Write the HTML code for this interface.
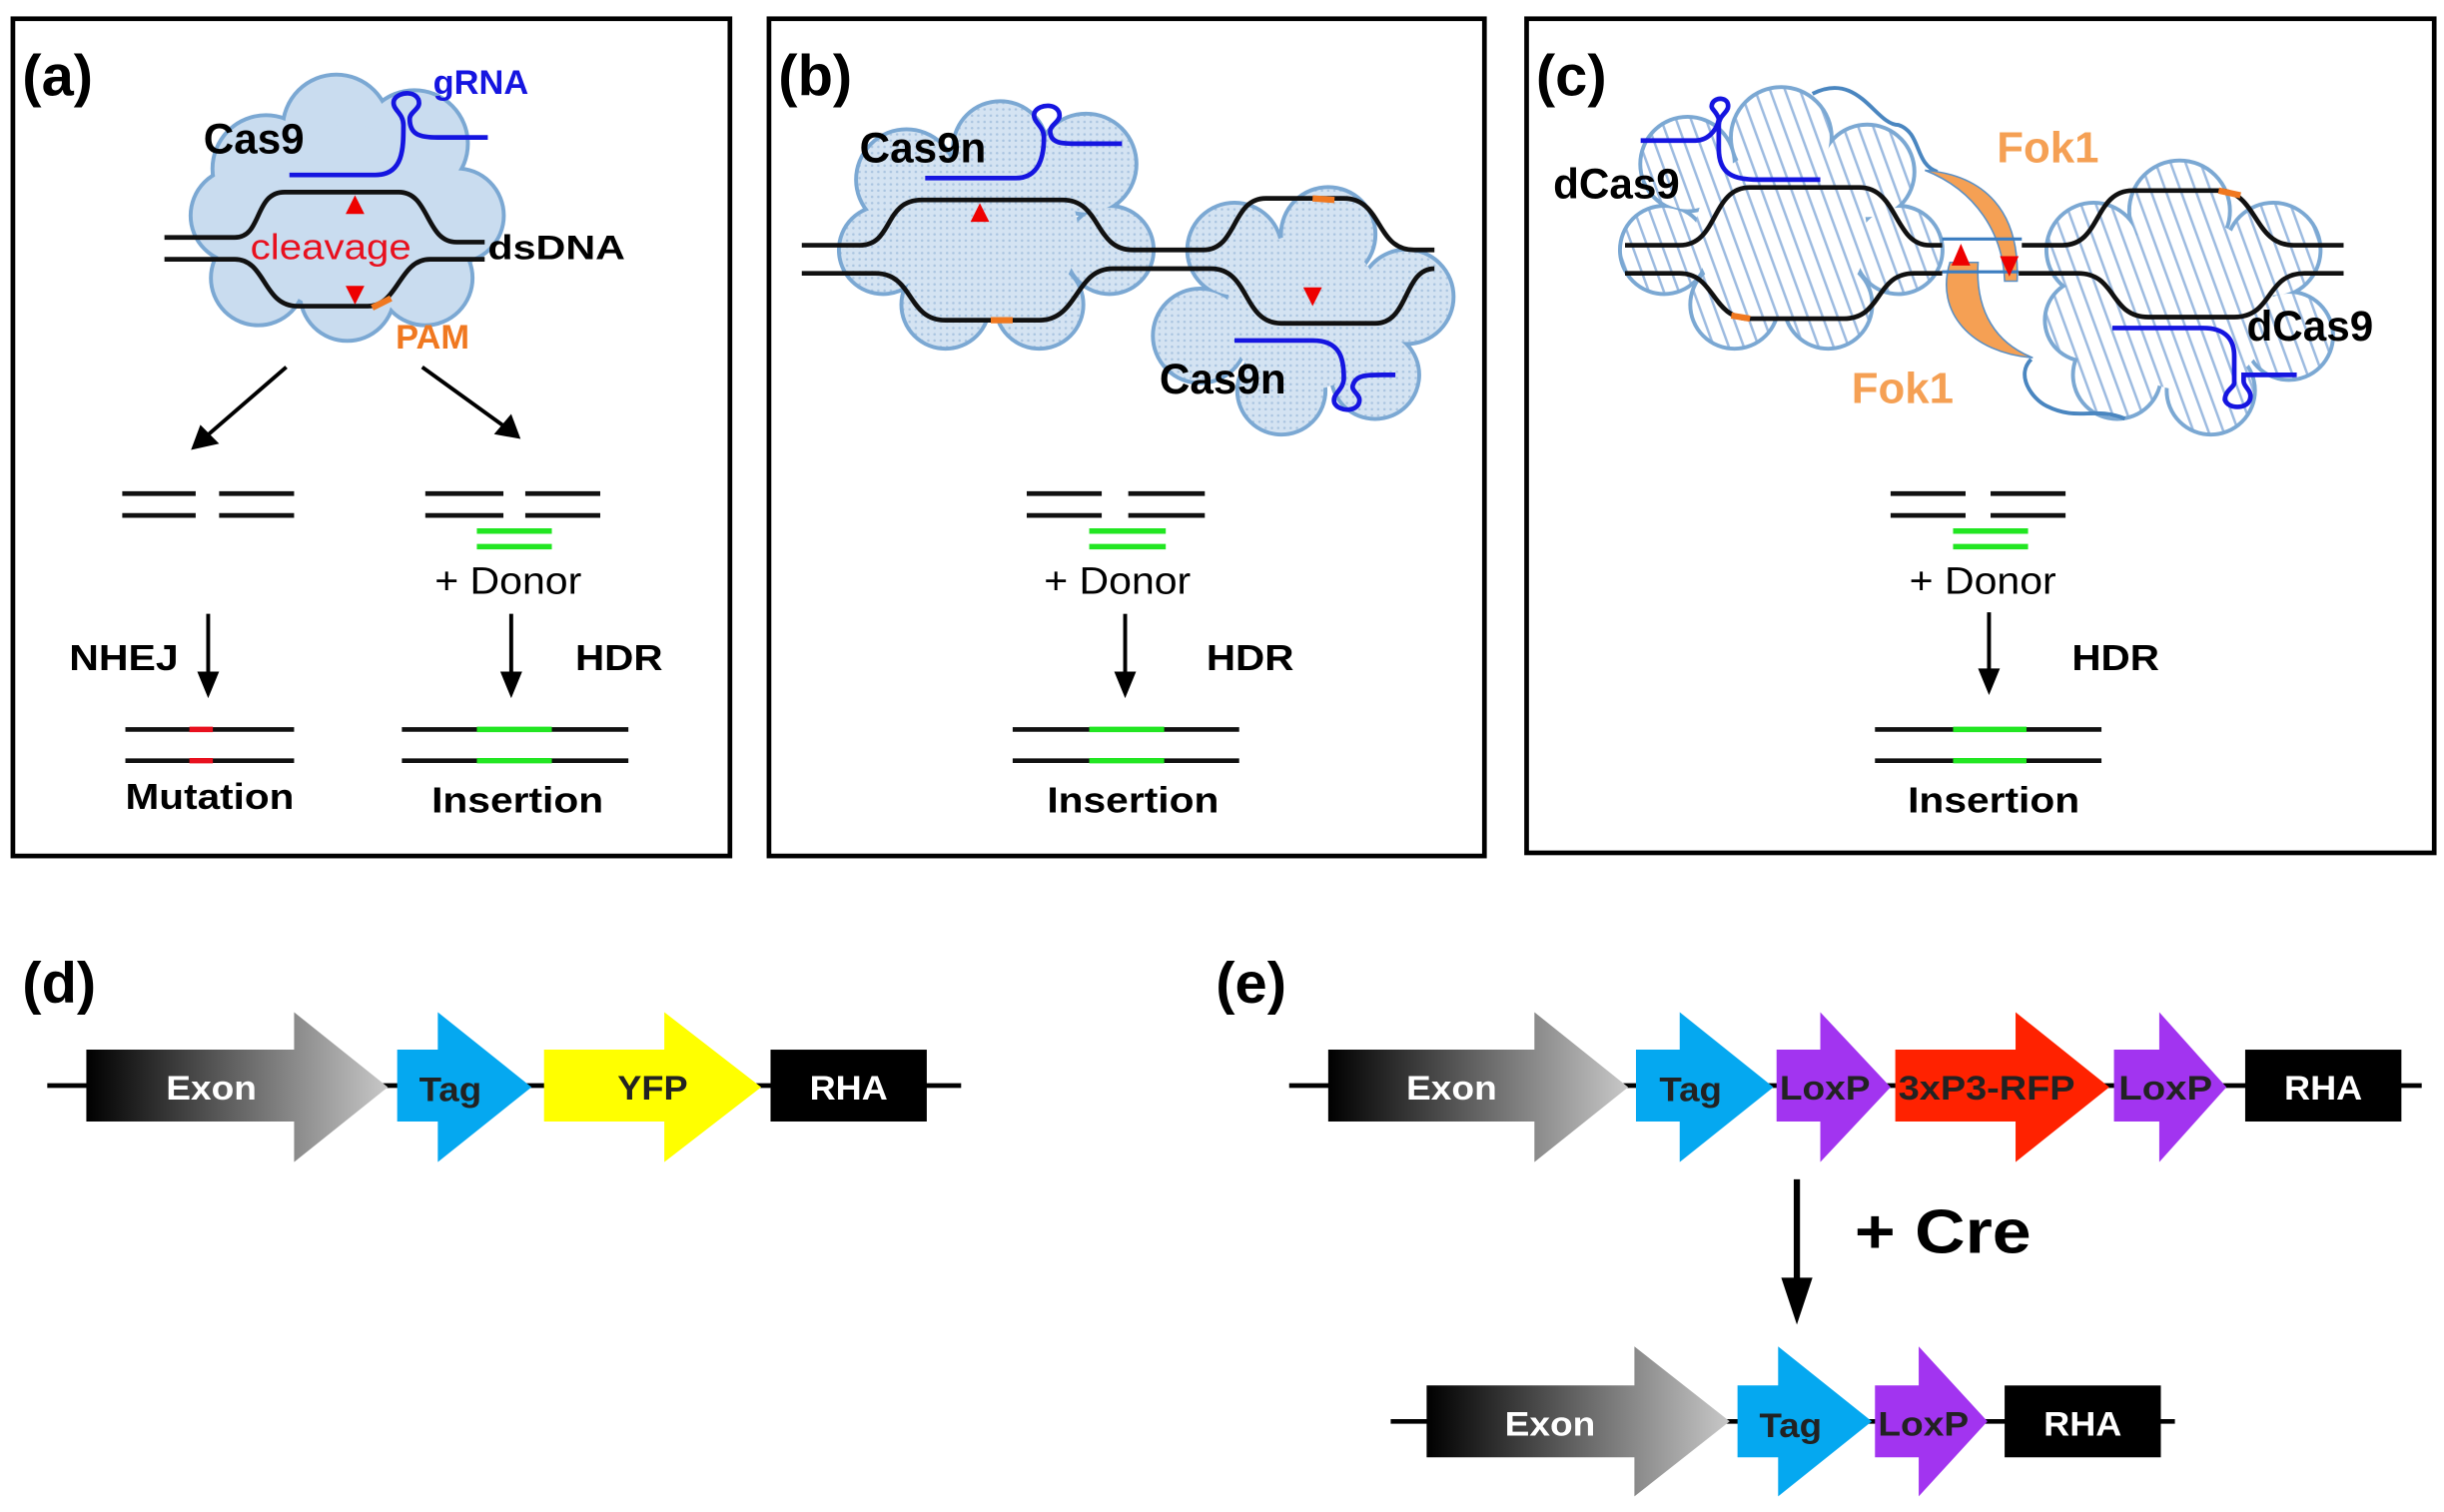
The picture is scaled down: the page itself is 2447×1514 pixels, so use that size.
<!DOCTYPE html>
<html><head><meta charset="utf-8"><style>
html,body{margin:0;padding:0;background:#fff;}
svg{display:block;}
text{font-family:"Liberation Sans",Arial,sans-serif;}
.b{font-weight:bold;}
</style></head><body>
<svg width="2447" height="1514" viewBox="0 0 1564 968" xmlns="http://www.w3.org/2000/svg">
<defs>
<linearGradient id="ex" x1="0" x2="1" y1="0" y2="0"><stop offset="0" stop-color="#000"/><stop offset="1" stop-color="#c8c8c8"/></linearGradient>
<pattern id="dots" width="4" height="4" patternUnits="userSpaceOnUse"><rect width="4" height="4" fill="#d4e3f2"/><circle cx="2" cy="2" r="0.8" fill="#a9c4e0"/></pattern>
<pattern id="stripe" width="9" height="9" patternUnits="userSpaceOnUse" patternTransform="rotate(-20)"><rect width="9" height="9" fill="#fff"/><rect width="1.6" height="9" fill="#9dbbe0"/></pattern>
</defs>
<g fill="none" stroke="#000" stroke-width="3">
<rect x="8" y="12" width="459" height="536"/>
<rect x="492" y="12" width="458" height="536"/>
<rect x="977" y="12" width="581" height="534"/>
</g>
<!-- cloud a -->
<g stroke="#7ba8d3" stroke-width="3" fill="#7ba8d3">
<circle cx="170" cy="108" r="34"/><circle cx="215" cy="82" r="34"/><circle cx="265" cy="92" r="34"/><circle cx="292" cy="138" r="30"/><circle cx="272" cy="178" r="30"/><circle cx="222" cy="188" r="30"/><circle cx="165" cy="178" r="30"/><circle cx="152" cy="138" r="30"/>
</g>
<g fill="#c9dcef">
<circle cx="170" cy="108" r="33"/><circle cx="215" cy="82" r="33"/><circle cx="265" cy="92" r="33"/><circle cx="292" cy="138" r="29"/><circle cx="272" cy="178" r="29"/><circle cx="222" cy="188" r="29"/><circle cx="165" cy="178" r="29"/><circle cx="152" cy="138" r="29"/><circle cx="222" cy="140" r="60"/>
</g>
<!-- clouds b -->
<g stroke="#7ba8d3" stroke-width="3" fill="#7ba8d3">
<circle cx="580" cy="115" r="32"/><circle cx="640" cy="95" r="30"/><circle cx="695" cy="105" r="32"/><circle cx="710" cy="160" r="28"/><circle cx="665" cy="195" r="28"/><circle cx="605" cy="195" r="28"/><circle cx="565" cy="160" r="28"/>
<circle cx="790" cy="160" r="30"/><circle cx="850" cy="150" r="30"/><circle cx="900" cy="190" r="30"/><circle cx="880" cy="240" r="28"/><circle cx="820" cy="250" r="28"/><circle cx="768" cy="215" r="30"/>
</g>
<g fill="url(#dots)">
<circle cx="580" cy="115" r="31"/><circle cx="640" cy="95" r="29"/><circle cx="695" cy="105" r="31"/><circle cx="710" cy="160" r="27"/><circle cx="665" cy="195" r="27"/><circle cx="605" cy="195" r="27"/><circle cx="565" cy="160" r="27"/><circle cx="635" cy="150" r="55"/>
<circle cx="790" cy="160" r="29"/><circle cx="850" cy="150" r="29"/><circle cx="900" cy="190" r="29"/><circle cx="880" cy="240" r="27"/><circle cx="820" cy="250" r="27"/><circle cx="768" cy="215" r="29"/><circle cx="835" cy="200" r="50"/>
</g>
<!-- clouds c -->
<g stroke="#7ba8d3" stroke-width="3" fill="#7ba8d3">
<circle cx="1080" cy="105" r="30"/><circle cx="1140" cy="88" r="32"/><circle cx="1195" cy="110" r="30"/><circle cx="1215" cy="160" r="28"/><circle cx="1170" cy="195" r="28"/><circle cx="1110" cy="195" r="28"/><circle cx="1065" cy="160" r="28"/>
<circle cx="1340" cy="160" r="30"/><circle cx="1395" cy="135" r="32"/><circle cx="1455" cy="160" r="30"/><circle cx="1465" cy="215" r="28"/><circle cx="1415" cy="250" r="28"/><circle cx="1355" cy="240" r="28"/><circle cx="1335" cy="205" r="26"/>
</g>
<g fill="url(#stripe)">
<circle cx="1080" cy="105" r="29"/><circle cx="1140" cy="88" r="31"/><circle cx="1195" cy="110" r="29"/><circle cx="1215" cy="160" r="27"/><circle cx="1170" cy="195" r="27"/><circle cx="1110" cy="195" r="27"/><circle cx="1065" cy="160" r="27"/><circle cx="1140" cy="150" r="55"/>
<circle cx="1340" cy="160" r="29"/><circle cx="1395" cy="135" r="31"/><circle cx="1455" cy="160" r="29"/><circle cx="1465" cy="215" r="27"/><circle cx="1415" cy="250" r="27"/><circle cx="1355" cy="240" r="27"/><circle cx="1335" cy="205" r="25"/><circle cx="1400" cy="195" r="55"/>
</g>
<path d="M1160,60 C1190,45 1200,80 1215,80 C1230,85 1225,105 1240,110 M1300,230 C1290,240 1300,255 1310,260 C1330,270 1340,260 1360,268" fill="none" stroke="#4a86c0" stroke-width="2.5"/>
<!-- Fok1 crescents -->
<path d="M1232,109 C1270,112 1293,135 1291,180 L1283,180 C1282,150 1265,122 1232,109 Z" fill="#f5a054" stroke="#5a8fc4" stroke-width="1"/>
<path d="M1248,168 C1238,200 1262,226 1301,229 C1278,220 1264,200 1266,168 Z" fill="#f5a054" stroke="#5a8fc4" stroke-width="1"/>
<g stroke="#3b7dc0" stroke-width="2"><line x1="1243" y1="153" x2="1294" y2="153"/><line x1="1243" y1="174" x2="1292" y2="174"/></g>
<!-- DNA strands -->
<g fill="none" stroke="#111" stroke-width="3">
<path d="M105,152 L150,152 C168,152 162,123 182,123 L255,123 C275,123 272,155 292,155 L310,155"/>
<path d="M105,166 L150,166 C170,166 168,196 190,196 L235,196 C255,196 255,166 275,166 L310,166"/>
<path d="M513,157 L550,157 C572,157 565,128 590,128 L680,128 C705,128 700,160 725,160 L770,160 C792,160 788,127 810,127 L860,127 C885,127 880,160 905,160 L918,160"/>
<path d="M513,175 L560,175 C585,175 580,205 605,205 L665,205 C690,205 688,172 712,172 L775,172 C800,172 795,207 820,207 L880,207 C902,207 898,172 918,172"/>
<path d="M1040,157 L1075,157 C1100,157 1095,120 1120,120 L1190,120 C1215,120 1212,157 1235,157 L1243,157 M1294,157 L1320,157 C1345,157 1340,122 1365,122 L1420,122 C1445,122 1442,157 1468,157 L1500,157"/>
<path d="M1040,175 L1075,175 C1098,175 1095,204 1120,204 L1180,204 C1205,204 1200,175 1225,175 L1243,175 M1292,175 L1330,175 C1355,175 1350,203 1375,203 L1430,203 C1455,203 1450,175 1475,175 L1500,175"/>
</g>
<g stroke="#f07820" stroke-width="4"><line x1="238" y1="197" x2="250" y2="191"/><line x1="634" y1="205" x2="648" y2="205"/><line x1="840" y1="127" x2="854" y2="128"/><line x1="1108" y1="202" x2="1120" y2="204"/><line x1="1420" y1="122" x2="1434" y2="125"/></g>
<!-- gRNA -->
<g fill="none" stroke="#1515e0" stroke-width="3">
<path d="M185,112 L240,112 C258,112 258,95 258,80 C258,72 250,70 252,64 C255,58 268,58 268,66 C268,70 262,72 262,76 C262,86 268,88 280,88 L312,88"/>
<path d="M592,114 L650,114 C665,114 668,100 668,88 C668,80 660,78 662,72 C665,66 678,66 678,74 C678,78 672,80 672,84 C672,92 680,92 690,92 L718,92"/>
<path d="M790,218 L840,218 C858,218 860,230 860,242 C860,250 852,252 854,258 C857,264 870,264 870,256 C870,252 864,250 866,246 C868,240 875,240 885,240 L893,240"/>
<path d="M1050,90 L1085,90 C1095,90 1100,80 1100,76 C1098,70 1094,70 1096,66 C1098,62 1106,62 1106,68 C1106,72 1100,74 1100,80 L1100,95 C1100,112 1110,115 1125,115 L1165,115"/>
<path d="M1352,210 L1410,210 C1425,210 1430,218 1430,228 L1430,245 C1430,248 1424,250 1424,256 C1426,262 1438,262 1440,256 C1442,250 1436,248 1436,244 L1436,240 L1470,240"/>
</g>
<!-- red triangles -->
<g fill="#e00">
<polygon points="221,137 233,137 227,125"/><polygon points="221,183 233,183 227,195"/>
<polygon points="621,142 633,142 627,130"/><polygon points="834,184 846,184 840,196"/>
<polygon points="1249,170 1261,170 1255,156"/><polygon points="1280,164 1292,164 1286,177"/>
</g>
<!-- labels top -->
<text x="14" y="61" class="b" font-size="37">(a)</text>
<text x="498" y="61" class="b" font-size="37">(b)</text>
<text x="983" y="61" class="b" font-size="37">(c)</text>
<text x="130" y="98" class="b" font-size="27">Cas9</text>
<text x="277" y="60" class="b" font-size="22" fill="#1515e0">gRNA</text>
<text x="160" y="166" font-size="23" fill="#e8101e" textLength="103" lengthAdjust="spacingAndGlyphs">cleavage</text>
<text x="312" y="166" class="b" font-size="22" textLength="88" lengthAdjust="spacingAndGlyphs">dsDNA</text>
<text x="253" y="223" class="b" font-size="22" fill="#f07820">PAM</text>
<text x="550" y="104" class="b" font-size="27">Cas9n</text>
<text x="742" y="252" class="b" font-size="27">Cas9n</text>
<text x="994" y="127" class="b" font-size="27">dCas9</text>
<text x="1438" y="218" class="b" font-size="27">dCas9</text>
<text x="1278" y="104" class="b" font-size="28" fill="#f5a054">Fok1</text>
<text x="1185" y="258" class="b" font-size="28" fill="#f5a054">Fok1</text>
<!-- arrows a -->
<g stroke="#000" stroke-width="2.5" fill="#000">
<line x1="183" y1="235" x2="131" y2="280"/><polygon points="122,288 128,272 140,284" stroke="none"/>
<line x1="270" y1="235" x2="324" y2="274"/><polygon points="333,281 316,278 327,265" stroke="none"/>
</g>
<!-- broken DNA -->
<g stroke="#111" stroke-width="3">
<line x1="78" y1="316" x2="125" y2="316"/><line x1="78" y1="330" x2="125" y2="330"/><line x1="140" y1="316" x2="188" y2="316"/><line x1="140" y1="330" x2="188" y2="330"/>
<line x1="272" y1="316" x2="322" y2="316"/><line x1="272" y1="330" x2="322" y2="330"/><line x1="336" y1="316" x2="384" y2="316"/><line x1="336" y1="330" x2="384" y2="330"/>
<line x1="657" y1="316" x2="705" y2="316"/><line x1="657" y1="330" x2="705" y2="330"/><line x1="722" y1="316" x2="771" y2="316"/><line x1="722" y1="330" x2="771" y2="330"/>
<line x1="1210" y1="316" x2="1258" y2="316"/><line x1="1210" y1="330" x2="1258" y2="330"/><line x1="1274" y1="316" x2="1322" y2="316"/><line x1="1274" y1="330" x2="1322" y2="330"/>
<line x1="80" y1="467" x2="188" y2="467"/><line x1="80" y1="487" x2="188" y2="487"/>
<line x1="257" y1="467" x2="402" y2="467"/><line x1="257" y1="487" x2="402" y2="487"/>
<line x1="648" y1="467" x2="793" y2="467"/><line x1="648" y1="487" x2="793" y2="487"/>
<line x1="1200" y1="467" x2="1345" y2="467"/><line x1="1200" y1="487" x2="1345" y2="487"/>
</g>
<g stroke="#22e622" stroke-width="3.5">
<line x1="305" y1="340" x2="353" y2="340"/><line x1="305" y1="350" x2="353" y2="350"/>
<line x1="697" y1="340" x2="746" y2="340"/><line x1="697" y1="350" x2="746" y2="350"/>
<line x1="1250" y1="340" x2="1298" y2="340"/><line x1="1250" y1="350" x2="1298" y2="350"/>
<line x1="305" y1="467" x2="353" y2="467"/><line x1="305" y1="487" x2="353" y2="487"/>
<line x1="697" y1="467" x2="745" y2="467"/><line x1="697" y1="487" x2="745" y2="487"/>
<line x1="1250" y1="467" x2="1297" y2="467"/><line x1="1250" y1="487" x2="1297" y2="487"/>
</g>
<g stroke="#e8101e" stroke-width="3.5"><line x1="121" y1="467" x2="136" y2="467"/><line x1="121" y1="487" x2="136" y2="487"/></g>
<!-- down arrows -->
<g stroke="#000" stroke-width="2.5">
<line x1="133" y1="393" x2="133" y2="432"/><line x1="327" y1="393" x2="327" y2="432"/><line x1="720" y1="393" x2="720" y2="432"/><line x1="1273" y1="392" x2="1273" y2="430"/>
</g>
<g fill="#000">
<polygon points="126,430 140,430 133,447"/><polygon points="320,430 334,430 327,447"/><polygon points="713,430 727,430 720,447"/><polygon points="1266,428 1280,428 1273,445"/>
</g>
<g font-size="24">
<text x="278" y="380" textLength="94" lengthAdjust="spacingAndGlyphs">+ Donor</text>
<text x="668" y="380" textLength="94" lengthAdjust="spacingAndGlyphs">+ Donor</text>
<text x="1222" y="380" textLength="94" lengthAdjust="spacingAndGlyphs">+ Donor</text>
</g>
<g class="b" font-size="23">
<text x="44" y="429" textLength="70" lengthAdjust="spacingAndGlyphs">NHEJ</text>
<text x="368" y="429" textLength="56" lengthAdjust="spacingAndGlyphs">HDR</text>
<text x="772" y="429" textLength="56" lengthAdjust="spacingAndGlyphs">HDR</text>
<text x="1326" y="429" textLength="56" lengthAdjust="spacingAndGlyphs">HDR</text>
<text x="80" y="518" textLength="108" lengthAdjust="spacingAndGlyphs">Mutation</text>
<text x="276" y="520" textLength="110" lengthAdjust="spacingAndGlyphs">Insertion</text>
<text x="670" y="520" textLength="110" lengthAdjust="spacingAndGlyphs">Insertion</text>
<text x="1221" y="520" textLength="110" lengthAdjust="spacingAndGlyphs">Insertion</text>
</g>
<!-- (d) -->
<text x="14" y="642" class="b" font-size="37">(d)</text>
<text x="778" y="642" class="b" font-size="37">(e)</text>
<g stroke="#000" stroke-width="3">
<line x1="30" y1="695" x2="615" y2="695"/><line x1="825" y1="695" x2="1550" y2="695"/><line x1="890" y1="910" x2="1392" y2="910"/>
</g>
<polygon points="55,672 188,672 188,648 248,696 188,744 188,718 55,718" fill="url(#ex)"/>
<polygon points="254,672 280,672 280,648 340,696 280,744 280,718 254,718" fill="#05a8f0"/>
<polygon points="348,672 425,672 425,648 487,696 425,744 425,718 348,718" fill="#ffff00"/>
<rect x="493" y="672" width="100" height="46" fill="#000"/>
<polygon points="850,672 982,672 982,648 1042,696 982,744 982,718 850,718" fill="url(#ex)"/>
<polygon points="1047,672 1075,672 1075,648 1135,696 1075,744 1075,718 1047,718" fill="#05a8f0"/>
<polygon points="1137,672 1165,672 1165,648 1210,696 1165,744 1165,718 1137,718" fill="#a234f0"/>
<polygon points="1213,672 1290,672 1290,648 1350,696 1290,744 1290,718 1213,718" fill="#ff2200"/>
<polygon points="1353,672 1382,672 1382,648 1425,696 1382,744 1382,718 1353,718" fill="#a234f0"/>
<rect x="1437" y="672" width="100" height="46" fill="#000"/>
<polygon points="913,887 1046,887 1046,862 1107,910 1046,958 1046,933 913,933" fill="url(#ex)"/>
<polygon points="1112,887 1138,887 1138,862 1198,910 1138,958 1138,933 1112,933" fill="#05a8f0"/>
<polygon points="1200,887 1228,887 1228,862 1272,910 1228,958 1228,933 1200,933" fill="#a234f0"/>
<rect x="1283" y="887" width="100" height="46" fill="#000"/>
<g class="b" font-size="22">
<text x="106" y="704" fill="#fff" textLength="58" lengthAdjust="spacingAndGlyphs">Exon</text>
<text x="268" y="705" fill="#222" textLength="40" lengthAdjust="spacingAndGlyphs">Tag</text>
<text x="395" y="704" fill="#222" textLength="45" lengthAdjust="spacingAndGlyphs">YFP</text>
<text x="518" y="704" fill="#fff" textLength="50" lengthAdjust="spacingAndGlyphs">RHA</text>
<text x="900" y="704" fill="#fff" textLength="58" lengthAdjust="spacingAndGlyphs">Exon</text>
<text x="1062" y="705" fill="#222" textLength="40" lengthAdjust="spacingAndGlyphs">Tag</text>
<text x="1139" y="704" fill="#222" textLength="58" lengthAdjust="spacingAndGlyphs">LoxP</text>
<text x="1215" y="704" fill="#222" textLength="113" lengthAdjust="spacingAndGlyphs">3xP3-RFP</text>
<text x="1356" y="704" fill="#222" textLength="60" lengthAdjust="spacingAndGlyphs">LoxP</text>
<text x="1462" y="704" fill="#fff" textLength="50" lengthAdjust="spacingAndGlyphs">RHA</text>
<text x="963" y="919" fill="#fff" textLength="58" lengthAdjust="spacingAndGlyphs">Exon</text>
<text x="1126" y="920" fill="#222" textLength="40" lengthAdjust="spacingAndGlyphs">Tag</text>
<text x="1202" y="919" fill="#222" textLength="58" lengthAdjust="spacingAndGlyphs">LoxP</text>
<text x="1308" y="919" fill="#fff" textLength="50" lengthAdjust="spacingAndGlyphs">RHA</text>
</g>
<line x1="1150" y1="755" x2="1150" y2="820" stroke="#000" stroke-width="4"/>
<polygon points="1140,818 1160,818 1150,848" fill="#000"/>
<text x="1187" y="802" class="b" font-size="40" textLength="113" lengthAdjust="spacingAndGlyphs">+ Cre</text>
</svg>
</body></html>
